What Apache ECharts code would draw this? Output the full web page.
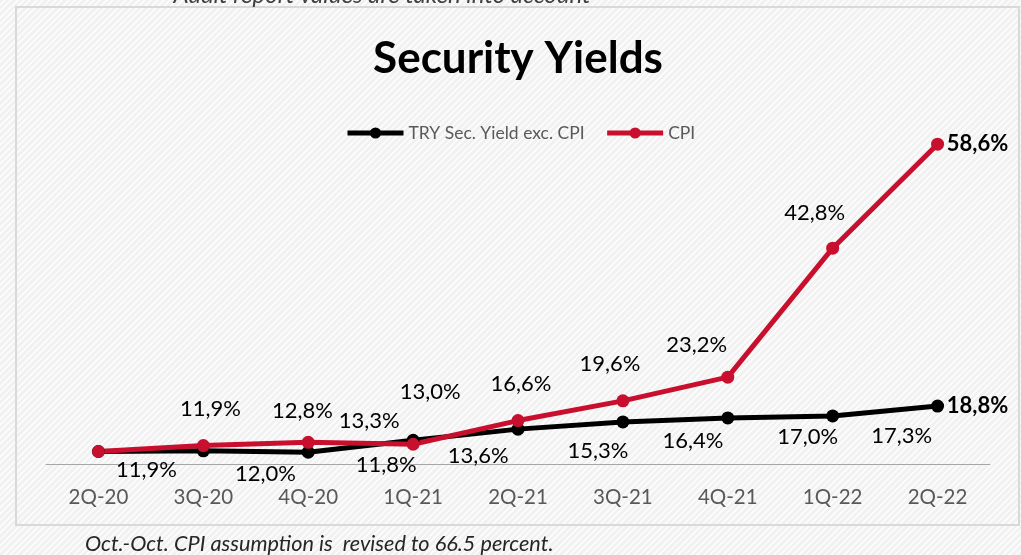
<!DOCTYPE html>
<html>
<head>
<meta charset="utf-8">
<script src="https://cdn.jsdelivr.net/npm/echarts@6/dist/echarts.min.js"></script>
<style>
html,body{margin:0;padding:0;}
body{width:1021px;height:555px;overflow:hidden;
background:repeating-linear-gradient(135deg,#f1f1f1 0px,#f1f1f1 2.5px,#fbfbfb 2.5px,#fbfbfb 4.5px);}
#chart{width:1021px;height:555px;}
</style>
</head>
<body>
<div id="chart"></div>
<script>
const categories = ['2Q-20','3Q-20','4Q-20','1Q-21','2Q-21','3Q-21','4Q-21','1Q-22','2Q-22'];
const trySecYield = [11.9, 12.0, 11.8, 13.6, 15.3, 16.4, 17.0, 17.3, 18.8];
const cpi = [11.9, 12.8, 13.3, 13.0, 16.6, 19.6, 23.2, 42.8, 58.6];
const seriesNames = ['TRY Sec. Yield exc. CPI', 'CPI'];
const titleText = 'Security Yields';
const topNote = 'Audit report values are taken into account';
const bottomNote = 'Oct.-Oct. CPI assumption is  revised to 66.5 percent.';

// label placement tweaks (style only, mimicking the original chart)
const blackLabelShift = [[48,18],[62,23],[78,13],[65,16],[80,22],[70,19],[80,19],[69,20],[40,0]];
const redLabelShift = [[112,-43],[99,-35],[61,-21],[17,-52],[3,-37],[-13,-37],[-31,-32],[-18,-35],[40,0]];

const FONT = 'Lato';
const fmt = v => v.toFixed(1).replace('.', ',') + '%';

function buildData(values, shifts) {
  return values.map((v, i) => ({
    value: v,
    label: {
      offset: shifts[i],
      fontWeight: i === values.length - 1 ? 'bold' : 'normal'
    }
  }));
}

const chart = echarts.init(document.getElementById('chart'), null, {renderer: 'canvas'});
chart.setOption({
  animation: false,
  backgroundColor: 'transparent',
  textStyle: {fontFamily: FONT},
  grid: {left: 46, right: 31, top: 135, bottom: 91, containLabel: false},
  legend: {
    left: 340, top: 119,
    itemWidth: 56, itemHeight: 14, itemGap: 20,
    lineStyle: {width: 5},
    textStyle: {fontFamily: FONT, fontSize: 17.5, color: '#595959'},
    data: seriesNames
  },
  xAxis: {
    type: 'category',
    data: categories,
    boundaryGap: true,
    axisLine: {lineStyle: {color: '#a6a6a6', width: 1}},
    axisTick: {show: false},
    axisLabel: {fontFamily: FONT, fontSize: 20.5, color: '#595959', margin: 23},
    splitLine: {show: false}
  },
  yAxis: {
    type: 'value', min: 10, max: 60, show: false,
    splitLine: {show: false}
  },
  series: [
    {
      name: seriesNames[0], type: 'line',
      data: buildData(trySecYield, blackLabelShift),
      symbol: 'circle', symbolSize: 13,
      lineStyle: {color: '#000000', width: 5},
      itemStyle: {color: '#000000'},
      label: {show: true, position: 'inside', fontFamily: FONT, fontSize: 22, color: '#000000',
        formatter: p => fmt(p.value)}
    },
    {
      name: seriesNames[1], type: 'line',
      data: buildData(cpi, redLabelShift),
      symbol: 'circle', symbolSize: 13,
      lineStyle: {color: '#c8102e', width: 5},
      itemStyle: {color: '#c8102e'},
      label: {show: true, position: 'inside', fontFamily: FONT, fontSize: 22, color: '#000000',
        formatter: p => fmt(p.value)}
    }
  ],
  graphic: [
    {type: 'rect', silent: true, z: -1,
      shape: {x: 16, y: 7, width: 1003, height: 518},
      style: {fill: 'none', stroke: '#d9d9d9', lineWidth: 2}},
    {type: 'text', x: 518, y: 59,
      style: {text: titleText, fontFamily: FONT, fontSize: 44, fontWeight: 'bold', fill: '#000',
        textAlign: 'center', textVerticalAlign: 'middle'}},
    {type: 'text', x: 382, y: -5,
      style: {text: topNote, fontFamily: FONT, fontSize: 24, fontStyle: 'italic', fill: '#404040',
        textAlign: 'center', textVerticalAlign: 'middle'}},
    {type: 'text', x: 85, y: 544, scaleX: 0.985,
      style: {text: bottomNote, fontFamily: FONT, fontSize: 22, fontStyle: 'italic', fill: '#262626',
        textAlign: 'left', textVerticalAlign: 'middle'}}
  ]
});
</script>
</body>
</html>
